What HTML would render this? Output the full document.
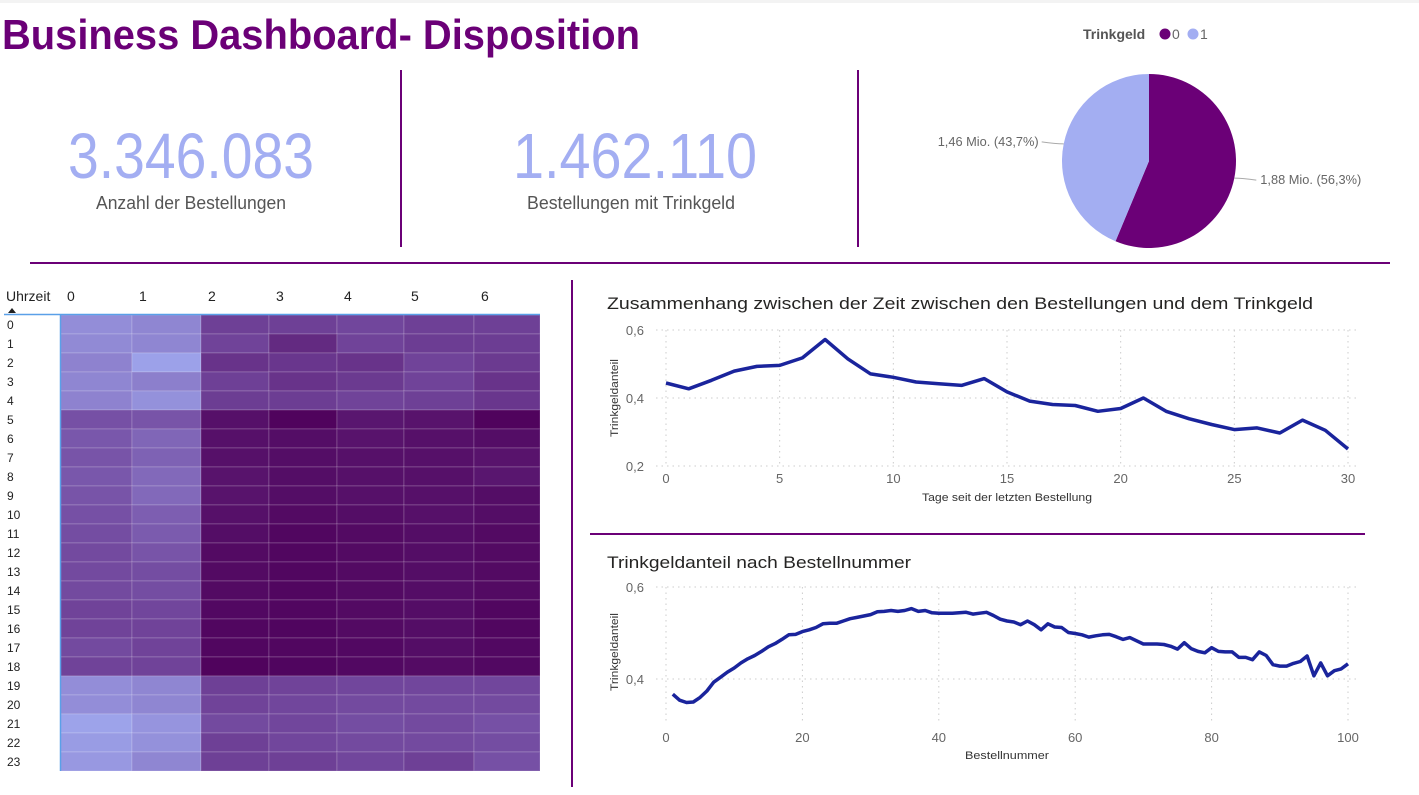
<!DOCTYPE html>
<html><head><meta charset="utf-8">
<style>
html,body{margin:0;padding:0;background:#fff;}
svg{display:block;font-family:"Liberation Sans",sans-serif;}
</style></head>
<body>
<svg id="dash" width="1419" height="795" viewBox="0 0 1419 795" xmlns="http://www.w3.org/2000/svg">
<rect x="0" y="0" width="1419" height="3" fill="#f3f3f3"/>
<text x="2" y="49" font-size="42" font-weight="bold" fill="#6b0077" textLength="638" lengthAdjust="spacingAndGlyphs">Business Dashboard- Disposition</text>

<g>
<text x="191" y="178" font-size="64" fill="#a3aef2" text-anchor="middle" textLength="246" lengthAdjust="spacingAndGlyphs">3.346.083</text>
<text x="191" y="209" font-size="18" fill="#555" text-anchor="middle" textLength="190" lengthAdjust="spacingAndGlyphs">Anzahl der Bestellungen</text>
</g>
<g>
<text x="635" y="178" font-size="64" fill="#a3aef2" text-anchor="middle" textLength="244" lengthAdjust="spacingAndGlyphs">1.462.110</text>
<text x="631" y="209" font-size="18" fill="#555" text-anchor="middle" textLength="208" lengthAdjust="spacingAndGlyphs">Bestellungen mit Trinkgeld</text>
</g>

<line x1="401" y1="70" x2="401" y2="247" stroke="#6b0077" stroke-width="2"/>
<line x1="858" y1="70" x2="858" y2="247" stroke="#6b0077" stroke-width="2"/>
<line x1="30" y1="263" x2="1390" y2="263" stroke="#6b0077" stroke-width="2"/>
<line x1="572" y1="280" x2="572" y2="787" stroke="#6b0077" stroke-width="2"/>
<line x1="590" y1="534" x2="1365" y2="534" stroke="#6b0077" stroke-width="2"/>

<g>
<text x="1083" y="39" font-size="14" font-weight="bold" fill="#555">Trinkgeld</text>
<circle cx="1165" cy="34" r="5.5" fill="#6b0077"/>
<text x="1172" y="39" font-size="14" fill="#666">0</text>
<circle cx="1193" cy="34" r="5.5" fill="#a3aef2"/>
<text x="1200" y="39" font-size="14" fill="#666">1</text>
</g>
<g id="pie"></g>

<g id="heat"></g>
<g id="chart1"></g>
<g id="chart2"></g>
</svg>
<script>
const NS="http://www.w3.org/2000/svg";
// ---- pie data ----
const pieLabels=["0","1"];
const pieValues=[1.88,1.46];
const pieTexts=["1,88 Mio. (56,3%)","1,46 Mio. (43,7%)"];
const pieColors=["#6b0077","#a3aef2"];
// ---- heatmap data ----
const heatCols=["0","1","2","3","4","5","6"];
const heatRows=["0","1","2","3","4","5","6","7","8","9","10","11","12","13","14","15","16","17","18","19","20","21","22","23"];
const heatValues=[
[0.16,0.20,0.60,0.60,0.56,0.60,0.60],
[0.18,0.20,0.58,0.74,0.58,0.62,0.62],
[0.22,0.05,0.68,0.66,0.68,0.58,0.64],
[0.20,0.24,0.60,0.68,0.64,0.58,0.68],
[0.22,0.14,0.62,0.62,0.58,0.60,0.66],
[0.50,0.48,0.90,0.98,0.86,0.88,0.98],
[0.46,0.38,0.90,0.92,0.88,0.90,0.92],
[0.48,0.40,0.90,0.92,0.90,0.90,0.88],
[0.46,0.36,0.88,0.92,0.90,0.90,0.86],
[0.48,0.36,0.88,0.92,0.90,0.90,0.92],
[0.50,0.42,0.90,0.94,0.92,0.90,0.92],
[0.52,0.44,0.92,0.96,0.94,0.92,0.94],
[0.54,0.48,0.94,0.96,0.94,0.92,0.94],
[0.54,0.52,0.94,0.96,0.94,0.92,0.94],
[0.54,0.52,0.94,0.96,0.94,0.92,0.94],
[0.58,0.56,0.95,0.96,0.94,0.92,0.96],
[0.58,0.58,0.96,0.97,0.94,0.92,0.96],
[0.54,0.58,0.96,0.96,0.95,0.92,0.95],
[0.58,0.58,0.98,0.97,0.95,0.93,0.95],
[0.16,0.20,0.60,0.58,0.56,0.56,0.56],
[0.16,0.20,0.58,0.56,0.54,0.54,0.54],
[0.04,0.12,0.54,0.56,0.52,0.54,0.50],
[0.08,0.14,0.60,0.56,0.54,0.54,0.52],
[0.10,0.20,0.60,0.60,0.56,0.60,0.50]];
// ---- line chart 1 data ----
const days=[0,1,2,3,4,5,6,7,8,9,10,11,12,13,14,15,16,17,18,19,20,21,22,23,24,25,26,27,28,29,30];
const dayShare=[0.444,0.427,0.452,0.479,0.493,0.496,0.518,0.572,0.515,0.471,0.461,0.447,0.442,0.437,0.457,0.418,0.391,0.381,0.378,0.361,0.369,0.400,0.361,0.339,0.322,0.307,0.312,0.297,0.335,0.305,0.250];
const c1XTicks=[0,5,10,15,20,25,30];
const c1YTicks=[0.2,0.4,0.6];
const c1YLabels=["0,2","0,4","0,6"];
// ---- line chart 2 data ----
const orderShare=[0.367,0.354,0.349,0.350,0.360,0.374,0.393,0.404,0.415,0.424,0.435,0.444,0.451,0.460,0.470,0.477,0.486,0.496,0.497,0.503,0.507,0.512,0.520,0.521,0.521,0.526,0.531,0.534,0.537,0.540,0.546,0.547,0.549,0.547,0.549,0.553,0.547,0.549,0.544,0.543,0.543,0.543,0.544,0.545,0.541,0.543,0.545,0.538,0.530,0.526,0.524,0.518,0.526,0.518,0.507,0.520,0.513,0.512,0.501,0.499,0.496,0.491,0.494,0.496,0.497,0.492,0.486,0.490,0.483,0.476,0.476,0.476,0.475,0.471,0.465,0.479,0.466,0.460,0.457,0.468,0.460,0.459,0.459,0.447,0.447,0.442,0.459,0.451,0.431,0.428,0.428,0.434,0.438,0.450,0.407,0.435,0.407,0.418,0.422,0.433];
const c2XTicks=[0,20,40,60,80,100];
const c2YTicks=[0.4,0.6];
const c2YLabels=["0,4","0,6"];

function mk(tag,attrs,parent,txt){const e=document.createElementNS(NS,tag);for(const k in attrs)e.setAttribute(k,attrs[k]);if(txt!==undefined)e.textContent=txt;parent.appendChild(e);return e;}

// ---- pie ----
(function(){
const g=document.getElementById('pie');const cx=1149,cy=161,r=87;
const total=pieValues.reduce((a,b)=>a+b,0);let a0=0;
pieValues.forEach((v,i)=>{
 const a1=a0+v/total*2*Math.PI;
 const x0=cx+r*Math.sin(a0),y0=cy-r*Math.cos(a0),x1=cx+r*Math.sin(a1),y1=cy-r*Math.cos(a1);
 const large=(a1-a0)>Math.PI?1:0;
 const p=mk('path',{d:`M${cx},${cy}L${x0},${y0}A${r},${r} 0 ${large} 1 ${x1},${y1}Z`,fill:pieColors[i]},g);
 
 
 const am=(a0+a1)/2;const ex=cx+r*Math.sin(am),ey=cy-r*Math.cos(am);
 const right=Math.sin(am)>0;const lx=right?ex+22:ex-22;
 const ln=mk('path',{d:`M${ex},${ey}Q${ex+(right?8:-8)},${ey} ${lx},${ey+(right?2:-2)}`,fill:'none',stroke:'#aaa','stroke-width':1},g);
 
 
 const t=mk('text',{x:right?lx+4:lx-3,y:ey+(right?6:2),'font-size':13,fill:'#666','text-anchor':right?'start':'end',textLength:101,lengthAdjust:'spacingAndGlyphs'},g,pieTexts[i]);
 
 
 a0=a1;
});
})();

// ---- heatmap ----
(function(){
const g=document.getElementById('heat');
const colX=[60,132,201,269,337,404,474,540];
const top=315,rh=19;
const c0=[160,170,240],cm=[118,80,165],c1=[78,0,90];
function col(v){let a,b,t;if(v<0.5){a=c0;b=cm;t=v/0.5;}else{a=cm;b=c1;t=(v-0.5)/0.5;}return 'rgb('+a.map((x,k)=>Math.round(x+(b[k]-x)*t)).join(',')+')';}
const h=mk('text',{x:6,y:301,'font-size':14,fill:'#222'},g,'Uhrzeit');


const tri=mk('path',{d:'M8,313L12,308L16,313Z',fill:'#222'},g);


heatCols.forEach((c,j)=>{
 const t=mk('text',{x:colX[j]+7,y:301,'font-size':14,fill:'#222'},g,c);
 
 
});
heatRows.forEach((rw,i)=>{
 const t=mk('text',{x:7,y:top+i*rh+14,'font-size':12,fill:'#222'},g,rw);
 
 
 heatCols.forEach((c,j)=>{
  const r=mk('rect',{x:colX[j],y:top+i*rh,width:colX[j+1]-colX[j],height:rh,fill:col(heatValues[i][j]),stroke:'rgba(255,255,255,0.18)','stroke-width':1},g);
  
  
 });
});
const bl=mk('line',{x1:4,y1:314.5,x2:540,y2:314.5,stroke:'#5aa0e8','stroke-width':1.5},g);


const vl=mk('line',{x1:60.5,y1:315,x2:60.5,y2:771,stroke:'#5aa0e8','stroke-width':1.5},g);


})();

// ---- line charts ----
function lineChart(id,cfg){
 const g=document.getElementById(id);
 const sx=v=>cfg.x0+(v-cfg.xmin)/(cfg.xmax-cfg.xmin)*(cfg.x1-cfg.x0);
 const sy=v=>cfg.yb+(v-cfg.ymin)/(cfg.ymax-cfg.ymin)*(cfg.yt-cfg.yb);
 const ti=mk('text',{x:607,y:cfg.titleY,'font-size':17,fill:'#252423',textLength:cfg.titleLen,lengthAdjust:'spacingAndGlyphs'},g,cfg.title);
 
 
 cfg.yt_.forEach((v,i)=>{
  const l=mk('line',{x1:cfg.x0-10,y1:sy(v),x2:cfg.x1+12,y2:sy(v),stroke:'#ccc','stroke-dasharray':'1.5,4'},g);
  
  
  const t=mk('text',{x:cfg.x0-22,y:sy(v)+5,'font-size':13,fill:'#666','text-anchor':'end'},g,cfg.yl[i]);
  
  
 });
 cfg.xt.forEach(v=>{
  const l=mk('line',{x1:sx(v),y1:cfg.gridTop,x2:sx(v),y2:cfg.gridBot,stroke:'#ccc','stroke-dasharray':'1.5,4'},g);
  
  
  const t=mk('text',{x:sx(v),y:cfg.xLabY,'font-size':13,fill:'#666','text-anchor':'middle'},g,String(v));
  
  
 });
 const xt=mk('text',{x:1007,y:cfg.xTitleY,'font-size':11,fill:'#333','text-anchor':'middle',textLength:cfg.xTitleLen,lengthAdjust:'spacingAndGlyphs'},g,cfg.xTitle);
 
 
 const yt=mk('text',{x:0,y:0,'font-size':11,fill:'#333','text-anchor':'middle',transform:`translate(618,${cfg.yTitleC}) rotate(-90)`,textLength:78,lengthAdjust:'spacingAndGlyphs'},g,'Trinkgeldanteil');
 
 
 const d=cfg.ys.map((v,i)=>(i?'L':'M')+sx(cfg.xs[i]).toFixed(1)+','+sy(v).toFixed(1)).join('');
 const p=mk('path',{d:d,fill:'none',stroke:'#1a249c','stroke-width':3.5,'stroke-linejoin':'round'},g);
 
 
}
lineChart('chart1',{x0:666,x1:1348,xmin:0,xmax:30,yb:466,yt:330,ymin:0.2,ymax:0.6,xs:days,ys:dayShare,xt:c1XTicks,yt_:c1YTicks,yl:c1YLabels,
 title:'Zusammenhang zwischen der Zeit zwischen den Bestellungen und dem Trinkgeld',titleY:309,titleLen:706,gridTop:330,gridBot:466,xLabY:483,xTitle:'Tage seit der letzten Bestellung',xTitleY:501,xTitleLen:170,yTitleC:398});
const orderNums=orderShare.map((_,i)=>i+1);
lineChart('chart2',{x0:666,x1:1348,xmin:0,xmax:100,yb:679,yt:587,ymin:0.4,ymax:0.6,xs:orderNums,ys:orderShare,xt:c2XTicks,yt_:c2YTicks,yl:c2YLabels,
 title:'Trinkgeldanteil nach Bestellnummer',titleY:568,titleLen:304,gridTop:587,gridBot:724,xLabY:742,xTitle:'Bestellnummer',xTitleY:759,xTitleLen:84,yTitleC:652});
</script>
</body></html>
